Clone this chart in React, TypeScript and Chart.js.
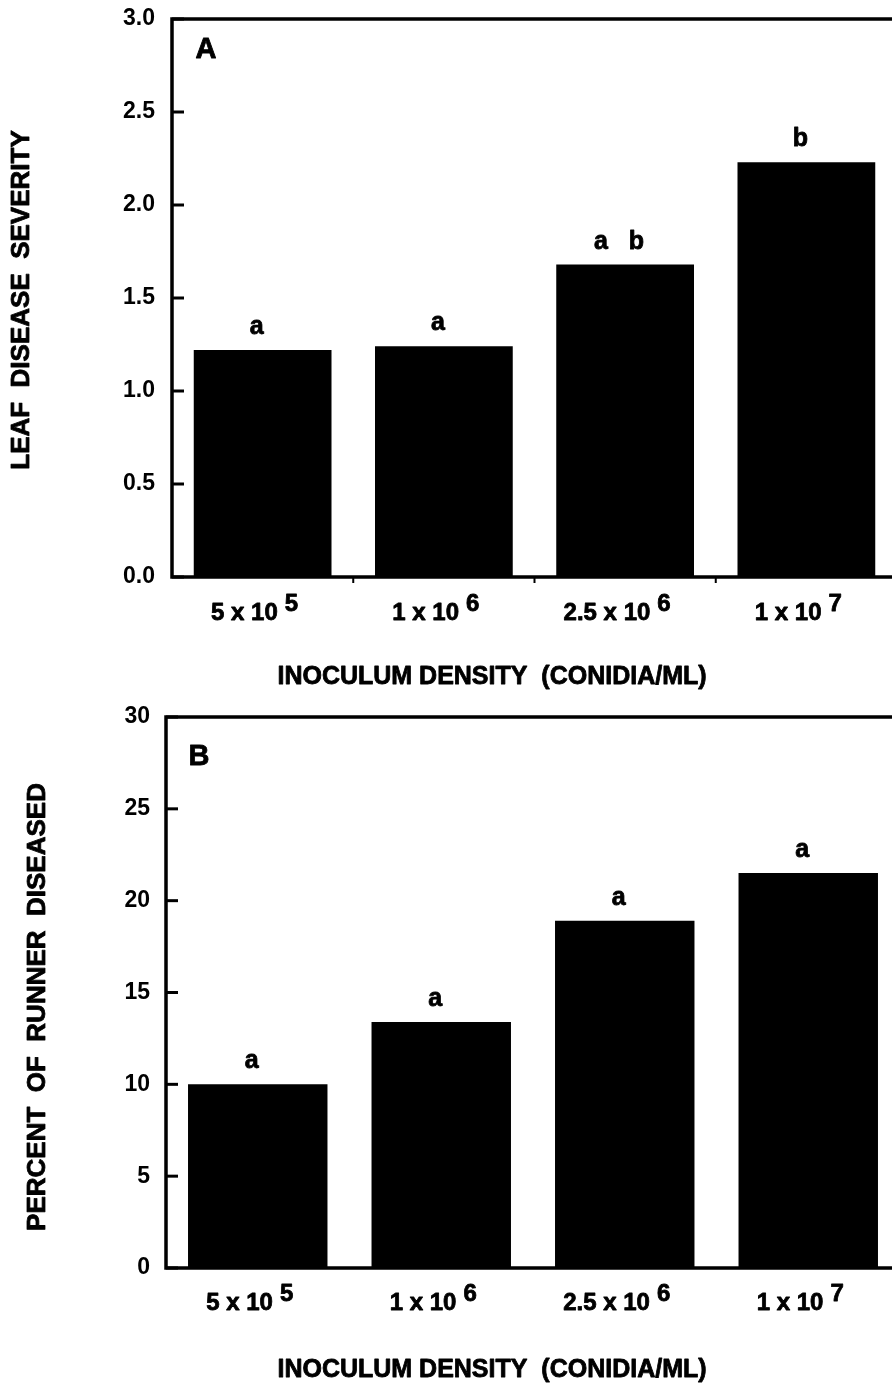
import { useEffect, useRef } from "react";
import { Chart, registerables } from "chart.js";

Chart.register(...registerables);

const FONT = '"Liberation Sans", Arial, Helvetica, sans-serif';
const CANVAS_W = 1000;
const CANVAS_H = 692;

// Inoculum densities: mantissa text and power of ten
const densityBase = ["5 x 10", "1 x 10", "2.5 x 10", "1 x 10"];
const densityExp = ["5", "6", "6", "7"];
const xAxisTitle = "INOCULUM DENSITY  (CONIDIA/ML)";

// Panel A: leaf disease severity
const leafSeverity = [1.22, 1.24, 1.68, 2.23];
const leafLetters = ["a", "a", "a   b", "b"];
const leafMax = 3;
const leafStep = 0.5;

// Panel B: percent of runner diseased
const runnerPercent = [10.0, 13.4, 18.9, 21.5];
const runnerLetters = ["a", "a", "a", "a"];
const runnerMax = 30;
const runnerStep = 5;

type PanelLayout = {
  top: number;
  axisLeft: number;
  areaTop: number;
  areaBottom: number;
  areaRight: number;
  tickPad: number;
  yTitleX: number;
  yTitleY: number;
  tagX: number;
  tagY: number;
  boundaryTicks: boolean;
  xLabelY: number;
  xTitleY: number;
};

const layoutA: PanelLayout = {
  top: 0,
  axisLeft: 172,
  areaTop: 19,
  areaBottom: 577,
  areaRight: 897,
  tickPad: 17,
  yTitleX: 22,
  yTitleY: 300,
  tagX: 206,
  tagY: 58,
  boundaryTicks: true,
  xLabelY: 620,
  xTitleY: 677,
};

const layoutB: PanelLayout = {
  top: 692,
  axisLeft: 166,
  areaTop: 25,
  areaBottom: 576,
  areaRight: 900,
  tickPad: 16,
  yTitleX: 38,
  yTitleY: 315,
  tagX: 199,
  tagY: 73,
  boundaryTicks: false,
  xLabelY: 618,
  xTitleY: 678,
};

type PanelProps = {
  layout: PanelLayout;
  values: number[];
  letters: string[];
  max: number;
  step: number;
  decimals: number;
  yTitle: string;
  tag: string;
};

// filled text with a thin outline for a heavier face
function heavyText(ctx: CanvasRenderingContext2D, text: string, x: number, y: number) {
  ctx.fillText(text, x, y);
  ctx.strokeText(text, x, y);
}

function Panel({ layout, values, letters, max, step, decimals, yTitle, tag }: PanelProps) {
  const ref = useRef<HTMLCanvasElement | null>(null);

  useEffect(() => {
    const canvas = ref.current;
    if (!canvas) return;

    const decorations = {
      id: "panelDecorations",
      afterDatasetsDraw(chart: Chart) {
        const ctx = chart.ctx;
        const { left, right, top, bottom } = chart.chartArea;
        ctx.save();
        ctx.fillStyle = "#000";
        ctx.strokeStyle = "#000";

        // frame round the plot area
        ctx.lineWidth = 3.5;
        ctx.strokeRect(left, top, right - left, bottom - top);

        // short inward tick marks on the value axis
        const yScale: any = chart.scales.y;
        ctx.lineWidth = 3;
        yScale.ticks.forEach((t: any) => {
          const py = yScale.getPixelForValue(t.value);
          ctx.beginPath();
          ctx.moveTo(left, py);
          ctx.lineTo(left + 12, py);
          ctx.stroke();
        });

        // small marks between categories under the base line
        const xScale: any = chart.scales.x;
        if (layout.boundaryTicks) {
          ctx.lineWidth = 2;
          for (let i = 1; i < values.length; i++) {
            const px = (xScale.getPixelForValue(i - 1) + xScale.getPixelForValue(i)) / 2;
            ctx.beginPath();
            ctx.moveTo(px, bottom);
            ctx.lineTo(px, bottom + 6);
            ctx.stroke();
          }
        }

        const meta = chart.getDatasetMeta(0);
        ctx.lineWidth = 0.8;
        ctx.lineJoin = "round";

        // significance letters above the bars
        ctx.font = `bold 25px ${FONT}`;
        ctx.textAlign = "center";
        ctx.textBaseline = "alphabetic";
        meta.data.forEach((bar: any, i: number) => {
          heavyText(ctx, letters[i], bar.x - 6, bar.y - 16);
        });

        // category labels with raised exponents
        ctx.font = `bold 24px ${FONT}`;
        ctx.textAlign = "left";
        meta.data.forEach((bar: any, i: number) => {
          const base = densityBase[i];
          const exp = densityExp[i];
          const wb = ctx.measureText(base).width;
          const ws = ctx.measureText(exp).width;
          const gap = 7;
          const start = bar.x - 8 - (wb + gap + ws) / 2;
          heavyText(ctx, base, start, layout.xLabelY);
          heavyText(ctx, exp, start + wb + gap, layout.xLabelY - 9);
        });

        // category axis title
        ctx.font = `bold 25px ${FONT}`;
        ctx.textAlign = "center";
        ctx.textBaseline = "middle";
        heavyText(ctx, xAxisTitle, 492, layout.xTitleY);

        // value axis title
        ctx.save();
        ctx.translate(layout.yTitleX, layout.yTitleY);
        ctx.rotate(-Math.PI / 2);
        ctx.font = `bold 26px ${FONT}`;
        heavyText(ctx, yTitle, 0, 0);
        ctx.restore();

        // panel tag
        ctx.font = `bold 29px ${FONT}`;
        ctx.textBaseline = "alphabetic";
        heavyText(ctx, tag, layout.tagX, layout.tagY);

        ctx.restore();
      },
    };

    const chart = new Chart(canvas, {
      type: "bar",
      data: {
        labels: densityBase.map((b, i) => `${b}^${densityExp[i]}`),
        datasets: [
          {
            data: values,
            backgroundColor: "#000",
            borderWidth: 0,
            categoryPercentage: 1,
            barPercentage: 0.76,
          },
        ],
      },
      options: {
        responsive: false,
        animation: false,
        devicePixelRatio: 1,
        layout: {
          padding: {
            left: 0,
            top: layout.areaTop,
            right: CANVAS_W - layout.areaRight,
            bottom: CANVAS_H - layout.areaBottom,
          },
        },
        plugins: {
          legend: { display: false },
          tooltip: { enabled: false },
          title: { display: false },
        },
        scales: {
          x: {
            type: "category",
            display: false,
            offset: true,
          },
          y: {
            min: 0,
            max,
            afterFit(scale: any) {
              scale.width = layout.axisLeft;
              scale.paddingTop = 0;
              scale.paddingBottom = 0;
            },
            grid: { display: false, drawTicks: false },
            border: { display: false },
            ticks: {
              stepSize: step,
              padding: layout.tickPad,
              color: "#000",
              font: { family: FONT, size: 23, weight: "bold" },
              callback: (v: any) => Number(v).toFixed(decimals),
            },
          },
        },
      },
      plugins: [decorations],
    });

    return () => chart.destroy();
  }, [layout, values, letters, max, step, decimals, yTitle, tag]);

  return (
    <canvas
      ref={ref}
      width={CANVAS_W}
      height={CANVAS_H}
      style={{
        position: "absolute",
        left: 0,
        top: layout.top,
        width: CANVAS_W,
        height: CANVAS_H,
      }}
    />
  );
}

export default function App() {
  return (
    <div
      style={{
        position: "absolute",
        left: 0,
        top: 0,
        width: 892,
        height: 1384,
        overflow: "hidden",
        background: "#fff",
      }}
    >
      <Panel
        layout={layoutA}
        values={leafSeverity}
        letters={leafLetters}
        max={leafMax}
        step={leafStep}
        decimals={1}
        yTitle="LEAF  DISEASE  SEVERITY"
        tag="A"
      />
      <Panel
        layout={layoutB}
        values={runnerPercent}
        letters={runnerLetters}
        max={runnerMax}
        step={runnerStep}
        decimals={0}
        yTitle="PERCENT  OF  RUNNER  DISEASED"
        tag="B"
      />
    </div>
  );
}
